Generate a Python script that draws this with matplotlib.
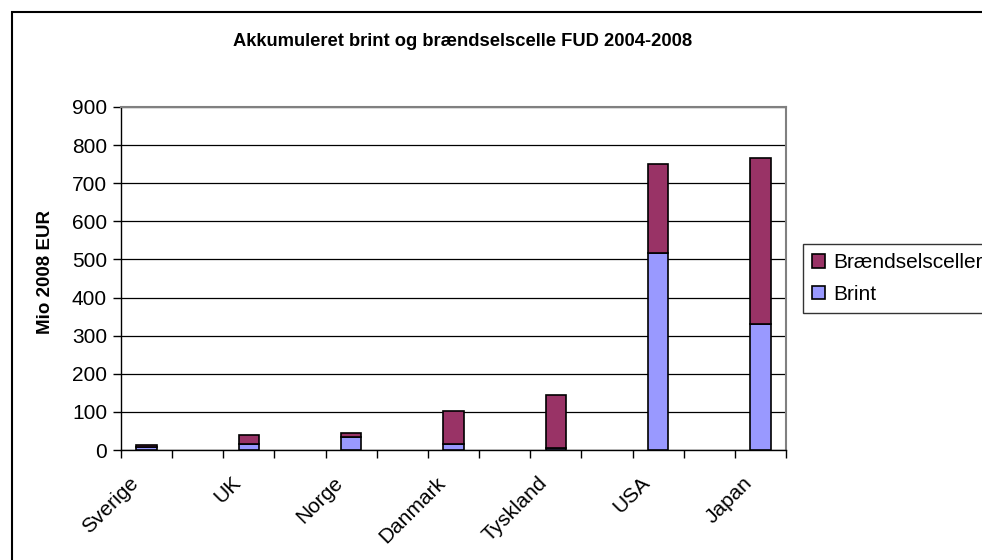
import matplotlib
matplotlib.use("Agg")
import matplotlib.pyplot as plt
import numpy as np
from matplotlib.patches import Rectangle
from matplotlib.ticker import FixedLocator, NullFormatter
from matplotlib.transforms import ScaledTranslation

plt.rcParams['font.family'] = ['Liberation Sans', 'DejaVu Sans']

countries = ["Sverige", "UK", "Norge", "Danmark", "Tyskland", "USA", "Japan"]
brint = [7, 17, 34, 17, 4, 518, 331]
braendselsceller = [6, 22, 10, 86, 141, 232, 436]
yticks = [0, 100, 200, 300, 400, 500, 600, 700, 800, 900]

W, H = 982, 560
fig = plt.figure(figsize=(W / 100, H / 100), dpi=100)
ax = fig.add_axes([121 / W, 1 - 450 / H, (786 - 121) / W, (450 - 107) / H])

# countries occupy every other category slot (blank slots between)
pos = np.arange(len(countries)) * 2
nslots = len(countries) * 2 - 1

ax.bar(pos, brint, width=0.4, color="#9999FF", edgecolor="black", linewidth=1.2,
       label="Brint", zorder=3)
ax.bar(pos, braendselsceller, width=0.4, bottom=brint, color="#993366",
       edgecolor="black", linewidth=1.2, label="Brændselsceller", zorder=3)

ax.set_xlim(-0.5, nslots - 0.5)
ax.set_ylim(0, 900)
ax.set_yticks(yticks)
ax.set_yticklabels([str(v) for v in yticks])
ax.yaxis.grid(True, color="black", linewidth=0.9)
ax.set_axisbelow(True)

ax.set_xticks([])
ax.xaxis.set_minor_locator(FixedLocator(np.arange(-0.5, nslots, 1.0)))
ax.xaxis.set_minor_formatter(NullFormatter())
ax.tick_params(axis="x", which="minor", length=6, width=1, direction="out")
ax.tick_params(axis="y", length=6, width=1, direction="out", labelsize=15, pad=4)

off = ScaledTranslation(-18 / 100, -23 / 100, fig.dpi_scale_trans)
for p, name in zip(pos, countries):
    ax.text(p, 0, name, transform=ax.get_xaxis_transform() + off,
            rotation=45, ha="right", va="top", rotation_mode="anchor",
            fontsize=15)

for s in ["left", "bottom"]:
    ax.spines[s].set_color("black")
    ax.spines[s].set_linewidth(1)
for s in ["top", "right"]:
    ax.spines[s].set_color("#808080")
    ax.spines[s].set_linewidth(1.5)

fig.text(46 / W, 1 - 272 / H, "Mio 2008 EUR", rotation=90, ha="center",
         va="center", fontsize=13.5, fontweight="bold")
fig.text(463 / W, 1 - 42 / H, "Akkumuleret brint og brændselscelle FUD 2004-2008",
         ha="center", va="center", fontsize=13.2, fontweight="bold")

handles, labels = ax.get_legend_handles_labels()
leg = fig.legend(handles[::-1], labels[::-1], loc="upper left",
                 bbox_to_anchor=(803 / W, 1 - 244 / H), fontsize=15,
                 frameon=True, fancybox=False, edgecolor="black",
                 handlelength=0.6, handleheight=0.6, handletextpad=0.4,
                 borderpad=0.45, labelspacing=0.6, borderaxespad=0)
leg.get_frame().set_linewidth(1)

fig.patches.append(Rectangle((12 / W, -0.1), 1.2, 1 - 12 / H + 0.1,
                             transform=fig.transFigure, fill=False,
                             edgecolor="black", linewidth=1.5))

fig.savefig("out.png", dpi=100)
